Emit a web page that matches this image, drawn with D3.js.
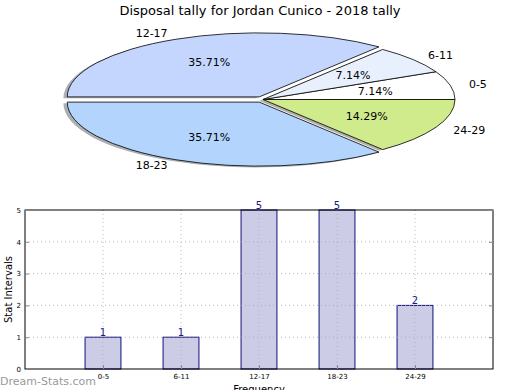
<!DOCTYPE html>
<html><head><meta charset="utf-8">
<script src="https://cdn.jsdelivr.net/npm/d3@7"></script>
<style>body{margin:0;background:#fff;} svg{display:block;font-family:"DejaVu Sans",sans-serif;}</style>
</head><body>
<script>
const title = "Disposal tally for Jordan Cunico - 2018 tally";
const categories = ["0-5", "6-11", "12-17", "18-23", "24-29"];
const counts = [1, 1, 5, 5, 2];
const pieColors = ["#ffffff", "#e8f0fe", "#c4d6fe", "#b3d4fd", "#d0eb8c"];
const explode = [0, 0, 0.045, 0.045, 0];
const yTicks = [0, 1, 2, 3, 4, 5];
const xLabel = "Frequency";
const yLabel = "Stat Intervals";
const watermark = "Dream-Stats.com";

const W = 520, H = 390;
const svg = d3.select("body").append("svg").attr("width", W).attr("height", H);

svg.append("text").attr("x", 260).attr("y", 15).attr("text-anchor", "middle")
  .attr("font-size", 13).text(title);

// ---- Pie (elliptical, matplotlib-like) ----
const cx = 263, cy = 99.5, rx = 192, ry = 64;
const total = d3.sum(counts);
const pie = d3.pie().sort(null).startAngle(0).endAngle(2 * Math.PI);
const arcs = pie(counts);
function pt(ox, oy, a, k) { return [ox + k * rx * Math.cos(a), oy - k * ry * Math.sin(a)]; }
function wedgePath(d, i, sx, sy) {
  const m = (d.startAngle + d.endAngle) / 2;
  const ox = cx + explode[i] * rx * Math.cos(m) + sx;
  const oy = cy - explode[i] * ry * Math.sin(m) + sy;
  const p0 = pt(ox, oy, d.startAngle, 1), p1 = pt(ox, oy, d.endAngle, 1);
  const large = (d.endAngle - d.startAngle) > Math.PI ? 1 : 0;
  const p = d3.path();
  p.moveTo(ox, oy); p.lineTo(p0[0], p0[1]);
  return p.toString() + ` A${rx},${ry} 0 ${large} 0 ${p1[0]},${p1[1]} Z`;
}
const pieG = svg.append("g");
pieG.selectAll("path.sh").data(arcs).join("path").attr("class", "sh")
  .attr("d", (d, i) => wedgePath(d, i, -0.02 * rx, 0.02 * ry))
  .attr("fill", (d, i) => { const c = d3.rgb(pieColors[i]); return d3.rgb(c.r * 0.3, c.g * 0.3, c.b * 0.3); })
  .attr("opacity", 0.42);
pieG.selectAll("path.w").data(arcs).join("path").attr("class", "w")
  .attr("d", (d, i) => wedgePath(d, i, 0, 0))
  .attr("fill", (d, i) => pieColors[i]).attr("stroke", "#000").attr("stroke-width", 0.8)
  .attr("stroke-linejoin", "round");
arcs.forEach((d, i) => {
  const m = (d.startAngle + d.endAngle) / 2;
  const ox = cx + explode[i] * rx * Math.cos(m);
  const oy = cy - explode[i] * ry * Math.sin(m);
  const pp = pt(ox, oy, m, 0.6);
  pieG.append("text").attr("x", pp[0]).attr("y", pp[1]).attr("dy", "0.35em")
    .attr("text-anchor", "middle").attr("font-size", 11)
    .text((counts[i] / total * 100).toFixed(2) + "%");
  const lp = pt(ox, oy, m, 1.1);
  pieG.append("text").attr("x", lp[0]).attr("y", lp[1]).attr("dy", "0.35em")
    .attr("text-anchor", Math.cos(m) > 0 ? "start" : "end").attr("font-size", 11)
    .text(categories[i]);
});

// ---- Bar chart ----
const L = 25, R = 493, T = 210, B = 369;
const x = d3.scaleLinear().domain([0, categories.length + 1]).range([L, R]);
const y = d3.scaleLinear().domain([0, 5]).range([B, T]);
const bw = 0.46;
const bg = svg.append("g");
bg.selectAll("rect.bar").data(counts).join("rect").attr("class", "bar")
  .attr("x", (d, i) => x(i + 1 - bw / 2)).attr("width", x(bw) - x(0))
  .attr("y", d => y(d)).attr("height", d => y(0) - y(d))
  .attr("fill", "#ccccE6").attr("stroke", "#10107a").attr("stroke-width", 1);
bg.selectAll("line.gy").data(yTicks.slice(1, -1)).join("line")
  .attr("x1", L).attr("x2", R).attr("y1", d => y(d)).attr("y2", d => y(d))
  .attr("stroke", "#aaa").attr("stroke-width", 1).attr("stroke-dasharray", "1,3").attr("opacity", 0.8);
bg.selectAll("line.gx").data(categories).join("line")
  .attr("x1", (d, i) => x(i + 1)).attr("x2", (d, i) => x(i + 1)).attr("y1", T).attr("y2", B)
  .attr("stroke", "#aaa").attr("stroke-width", 1).attr("stroke-dasharray", "1,3").attr("opacity", 0.8);
bg.append("rect").attr("x", L).attr("y", T).attr("width", R - L).attr("height", B - T)
  .attr("fill", "none").attr("stroke", "#000").attr("stroke-width", 1);
const yAx = bg.append("g").attr("transform", `translate(${L},0)`)
  .call(d3.axisLeft(y).tickValues(yTicks).tickFormat(d3.format("d")).tickSize(-4).tickPadding(4));
yAx.select(".domain").remove();
yAx.selectAll("text").attr("font-size", 7).attr("font-family", "DejaVu Sans");
yAx.selectAll("line").attr("stroke", "#888");
const yAxR = bg.append("g").attr("transform", `translate(${R},0)`)
  .call(d3.axisRight(y).tickValues(yTicks).tickFormat("").tickSize(-4));
yAxR.select(".domain").remove();
yAxR.selectAll("line").attr("stroke", "#888");
const xAx = bg.append("g").attr("transform", `translate(0,${B})`)
  .call(d3.axisBottom(x).tickValues(d3.range(1, categories.length + 1))
    .tickFormat(d => categories[d - 1]).tickSize(-4).tickPadding(5));
xAx.select(".domain").remove();
xAx.selectAll("text").attr("font-size", 7).attr("font-family", "DejaVu Sans");
xAx.selectAll("line").attr("stroke", "#888");
bg.selectAll("text.val").data(counts).join("text").attr("class", "val")
  .attr("x", (d, i) => x(i + 1)).attr("y", d => y(d) - 1)
  .attr("text-anchor", "middle").attr("font-size", 10).attr("fill", "#1a1a8c").text(d => d);
svg.append("text").attr("x", (L + R) / 2).attr("y", 393).attr("text-anchor", "middle")
  .attr("font-size", 10).text(xLabel);
svg.append("text").attr("transform", `translate(12,${(T + B) / 2}) rotate(-90)`)
  .attr("text-anchor", "middle").attr("font-size", 10).text(yLabel);
svg.append("text").attr("x", 0).attr("y", 385).attr("font-size", 11).attr("fill", "#999")
  .text(watermark);
</script>
</body></html>
